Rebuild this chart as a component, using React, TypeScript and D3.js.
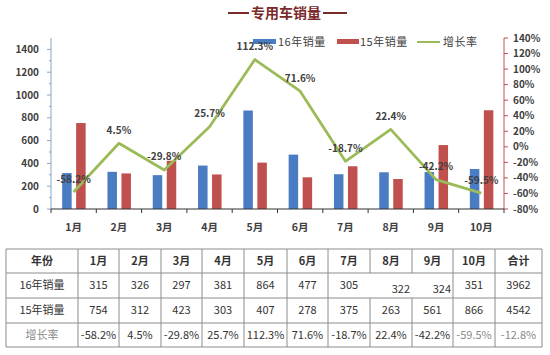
import React from "react";
import * as d3 from "d3";

const months = ["1月", "2月", "3月", "4月", "5月", "6月", "7月", "8月", "9月", "10月"];
const sales16 = [315, 326, 297, 381, 864, 477, 305, 322, 324, 351];
const sales15 = [754, 312, 423, 303, 407, 278, 375, 263, 561, 866];
const growth = [-58.2, 4.5, -29.8, 25.7, 112.3, 71.6, -18.7, 22.4, -42.2, -59.5];
const total16 = 3962;
const total15 = 4542;
const totalGrowth = -12.8;
const leftTicks = [0, 200, 400, 600, 800, 1000, 1200, 1400];
const rightTicks = [-80, -60, -40, -20, 0, 20, 40, 60, 80, 100, 120, 140];

const FONT = "'Noto Sans CJK SC', 'Noto Sans', sans-serif";
const BLUE = "#4A7CC4";
const RED = "#C0504D";
const GREEN = "#9BBB59";
const TXT = "#404040";

export default function App() {
  const plotL = 51, plotR = 504, plotT = 38, plotB = 209;
  const x = d3.scaleBand<string>().domain(months).range([plotL, plotR]);
  const yL = d3.scaleLinear().domain([0, 1500]).range([plotB, plotT]);
  const yR = d3.scaleLinear().domain([-80, 140]).range([plotB, plotT]);
  const cx = (m: string) => (x(m) as number) + x.bandwidth() / 2;
  const barW = 9.5;
  const line = d3
    .line<number>()
    .x((_, i) => cx(months[i]))
    .y((d) => yR(d));
  const fmt = (v: number) => v.toFixed(1) + "%";
  const minorTicks = d3.range(100, 1500, 200);

  // table layout
  const colX = [6, 78, 119, 161, 202, 244, 287, 328, 370, 412, 453, 495, 542];
  const rowY = [249, 273, 298, 323, 347];
  const header = ["年份", ...months, "合计"];
  const row16 = ["16年销量", ...sales16.map(String), String(total16)];
  const row15 = ["15年销量", ...sales15.map(String), String(total15)];
  const rowG = ["增长率", ...growth.map(fmt), fmt(totalGrowth)];
  const rows = [header, row16, row15, rowG];
  const ccx = (i: number) => (colX[i] + colX[i + 1]) / 2;
  const rcy = (r: number) => (rowY[r] + rowY[r + 1]) / 2;

  return (
    <svg width={550} height={355} style={{ position: "absolute", left: 0, top: 0, fontFamily: FONT }}>
      <rect x={0} y={0} width={550} height={355} fill="#fff" />
      {/* Title */}
      <line x1={228} x2={249} y1={13} y2={13} stroke="#7A2A2A" strokeWidth={2} />
      <text x={286} y={13} dy="0.35em" textAnchor="middle" fontSize={14} fontWeight="bold" fill="#7A2A2A">
        专用车销量
      </text>
      <line x1={323} x2={347} y1={13} y2={13} stroke="#7A2A2A" strokeWidth={2} />

      {/* Legend */}
      <rect x={253} y={39} width={23} height={5} fill={BLUE} />
      <text x={278} y={42} dy="0.35em" fontSize={11} fill={TXT} letterSpacing={0.5}>16年销量</text>
      <rect x={337} y={39} width={22} height={5} fill={RED} />
      <text x={360} y={42} dy="0.35em" fontSize={11} fill={TXT} letterSpacing={0.5}>15年销量</text>
      <line x1={417} x2={440} y1={42} y2={42} stroke={GREEN} strokeWidth={2} />
      <text x={443} y={42} dy="0.35em" fontSize={11} fill={TXT} letterSpacing={0.5}>增长率</text>

      {/* Left axis */}
      <line x1={plotL} x2={plotL} y1={plotT} y2={plotB} stroke="#8AA4C8" strokeWidth={1} />
      {leftTicks.map((t) => (
        <g key={"l" + t}>
          <line x1={plotL - 4} x2={plotL} y1={yL(t)} y2={yL(t)} stroke="#8AA4C8" />
          <text x={39} y={yL(t)} dy="0.35em" textAnchor="end" fontSize={10} fontWeight="bold" fill={TXT}>
            {t}
          </text>
        </g>
      ))}
      {minorTicks.map((t) => (
        <line key={"m" + t} x1={plotL - 2} x2={plotL} y1={yL(t)} y2={yL(t)} stroke="#8AA4C8" />
      ))}

      {/* Right axis */}
      <line x1={plotR} x2={plotR} y1={plotT} y2={plotB} stroke={RED} strokeWidth={1} />
      {rightTicks.map((t) => (
        <g key={"r" + t}>
          <line x1={plotR} x2={plotR + 4} y1={yR(t)} y2={yR(t)} stroke={RED} />
          <text x={513} y={yR(t)} dy="0.35em" textAnchor="start" fontSize={10} fontWeight="bold" fill={TXT}>
            {t}%
          </text>
        </g>
      ))}

      {/* Bars */}
      {months.map((m, i) => (
        <g key={"b" + m}>
          <rect x={cx(m) - 11.5} y={yL(sales16[i])} width={barW} height={plotB - yL(sales16[i])} fill={BLUE} />
          <rect x={cx(m) + 2.5} y={yL(sales15[i])} width={barW} height={plotB - yL(sales15[i])} fill={RED} />
        </g>
      ))}

      {/* Bottom axis */}
      <line x1={plotL} x2={plotR} y1={plotB} y2={plotB} stroke="#333" strokeWidth={1.2} />
      {months.map((m) => (
        <line key={"bt" + m} x1={x(m) as number} x2={x(m) as number} y1={plotB} y2={plotB + 4} stroke="#333" />
      ))}
      <line x1={plotR} x2={plotR} y1={plotB} y2={plotB + 4} stroke="#333" />
      {months.map((m) => (
        <text key={"ml" + m} x={cx(m)} y={227} dy="0.35em" textAnchor="middle" fontSize={10.5} fontWeight="bold" fill={TXT}>
          {m}
        </text>
      ))}

      {/* Line */}
      <path d={line(growth) || ""} fill="none" stroke={GREEN} strokeWidth={2.8} strokeLinejoin="round" />
      {growth.map((g, i) => (
        <text key={"gl" + i} x={cx(months[i])} y={yR(g) - 13} dy="0.35em" textAnchor="middle" fontSize={10} fontWeight="bold" fill={TXT}>
          {fmt(g)}
        </text>
      ))}

      {/* Table */}
      <g>
        {rowY.map((yy, r) => (
          <line key={"h" + r} x1={colX[0]} x2={colX[colX.length - 1]} y1={yy} y2={yy} stroke="#8c8c8c" strokeWidth={1} />
        ))}
        {colX.map((xx, c) =>
          c === 8 || c === 9 ? (
            <g key={"v" + c}>
              <line x1={xx} x2={xx} y1={rowY[0]} y2={rowY[1]} stroke="#8c8c8c" />
              <line x1={xx} x2={xx} y1={rowY[2]} y2={rowY[4]} stroke="#8c8c8c" />
            </g>
          ) : (
            <line key={"v" + c} x1={xx} x2={xx} y1={rowY[0]} y2={rowY[4]} stroke="#8c8c8c" />
          )
        )}
        {rows.map((row, r) =>
          row.map((cell, c) => {
            const shifted = r === 1 && (c === 8 || c === 9);
            const light = r === 3 && (c === 0 || c >= 10);
            return (
              <text
                key={"t" + r + "-" + c}
                x={shifted ? colX[c + 1] - 2 : ccx(c)}
                y={shifted ? rcy(r) + 4 : rcy(r)}
                dy="0.35em"
                textAnchor={shifted ? "end" : "middle"}
                fontSize={11}
                fontWeight={r === 0 ? "bold" : "normal"}
                fill={light ? "#8a8a8a" : "#333"}
              >
                {cell}
              </text>
            );
          })
        )}
      </g>
    </svg>
  );
}
